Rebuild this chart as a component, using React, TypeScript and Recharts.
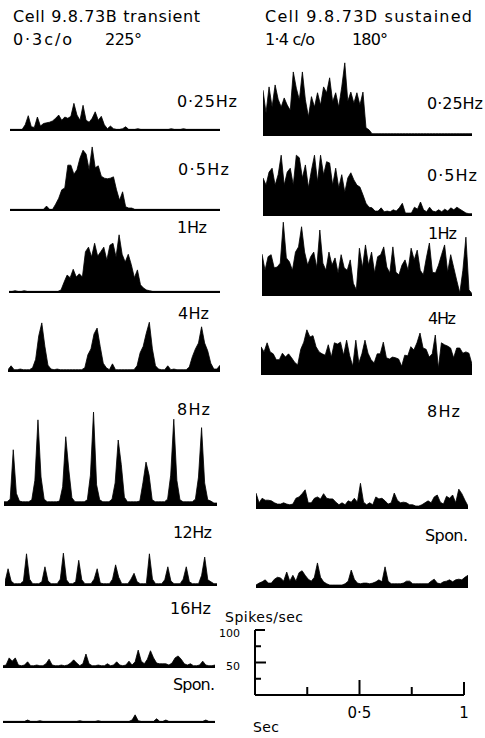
import React from 'react';
import { AreaChart, Area, XAxis, YAxis, ReferenceLine, ComposedChart, Line } from 'recharts';

// PSTH firing rates, spikes/sec, 70 bins over 1 s of stimulus cycle
// transient cell 9.8.73B
const transient025 = [1,1,1,1,1,8,22,5,4,20, 6,10,11,12,14,18,23,15,20,18, 21,41,23,15,38,15,12,18,28,15, 21,8,2,6,2,1,1,2,5,1, 1,1,2,1,1,1,1,1,1,1, 1,1,1,2,1,1,1,2,1,1, 1,1,1,1,1,1,1,1,1,1];
const transient05 = [1,1,1,1,1,1,1,1,1,1, 1,1,6,1,1,9,18,31,34,69, 69,55,62,80,92,86,62,97,65,68, 52,49,48,49,51,31,15,28,5,3, 3,1,1,1,1,1,1,1,1,1, 1,1,1,1,1,1,1,1,1,1, 1,1,1,1,1,1,1,1,1,1];
const transient1 = [1,1,2,1,1,2,1,1,1,1, 1,1,1,1,1,1,1,3,15,26, 22,35,23,28,23,62,69,54,75,55, 62,69,49,72,75,54,88,58,46,58, 42,22,34,11,6,3,2,1,1,1, 1,1,1,1,1,1,1,1,1,1, 1,1,1,1,1,1,1,1,1,1];
const transient4 = [2,8,2,2,3,2,2,2,5,18, 54,74,38,9,3,2,3,2,2,2, 2,2,2,2,2,5,25,34,57,66, 38,12,5,2,11,2,2,2,2,2, 2,2,8,28,38,58,75,34,8,3, 2,2,8,2,3,2,2,2,2,6, 22,34,43,68,43,31,12,3,3,9];
const transient8 = [5,5,9,85,18,6,5,5,5,8, 38,131,43,9,5,5,5,5,6,28, 105,54,11,5,5,5,5,8,46,143, 31,8,5,5,5,9,34,100,62,12, 5,5,5,5,6,34,66,46,8,5, 5,5,5,9,46,132,38,8,5,5, 5,5,9,43,119,34,8,6,3,3];
const transient12 = [5,25,6,2,2,2,6,48,9,2, 2,2,5,28,6,2,2,2,9,49, 8,2,2,5,38,8,2,2,2,9, 25,3,2,2,2,9,31,12,2,2, 2,9,18,5,2,2,2,48,9,2, 2,2,8,28,6,2,2,2,9,28, 5,2,2,2,15,43,8,5,2,2];
const transient16 = [2,3,14,9,14,3,2,3,8,2, 2,3,2,2,5,12,3,2,2,3, 2,3,6,11,6,2,5,20,5,2, 2,3,2,2,5,2,3,8,3,2, 3,9,3,8,26,9,5,12,25,14, 6,5,5,5,3,6,14,17,12,5, 3,5,2,2,3,9,3,2,2,3];
const transientSpon = [1,1,1,1,1,1,1,1,3,1, 1,1,2,1,1,1,1,1,1,1, 1,1,1,1,1,2,1,1,1,1, 1,2,1,1,1,1,1,1,1,1, 1,1,3,11,2,1,1,1,1,1, 5,1,1,3,1,1,1,1,1,1, 1,1,1,1,1,1,3,1,1,1];

// sustained cell 9.8.73D
const sustained025 = [69,34,74,43,77,55,43,57,46,38, 97,72,54,97,54,28,59,43,65,46, 74,65,88,51,65,43,74,111,52,66, 49,65,46,66,11,8,2,2,2,2, 2,2,2,2,2,2,2,2,2,2, 2,2,2,2,2,2,2,2,2,2, 2,2,2,2,2,2,2,2,2,2];
const sustained05 = [57,46,66,72,46,62,92,46,66,72, 46,92,88,57,77,42,69,92,51,92, 62,82,80,46,72,42,62,35,57,65, 54,46,43,31,18,12,11,6,6,11, 5,6,5,8,6,11,18,3,3,3, 12,9,20,8,5,12,6,5,8,5, 9,6,11,8,12,9,6,3,2,2];
const sustained1 = [63,38,59,62,42,43,49,112,57,51, 38,66,74,105,66,46,59,66,42,100, 49,38,66,46,57,34,62,42,38,54, 18,8,72,42,77,46,66,34,59,62, 74,43,34,74,35,31,46,54,38,72, 54,69,38,31,57,80,35,34,46,62, 77,35,62,42,22,3,38,89,8,2];
const sustained4 = [42,34,48,34,31,22,22,32,26,31, 25,18,14,38,49,68,57,59,42,34, 31,29,45,26,48,46,49,29,52,28, 12,52,17,31,52,32,22,17,31,31, 49,25,23,26,25,23,12,29,28,42, 37,48,63,40,38,26,31,60,9,48, 45,43,40,25,40,40,32,34,32,15];
const sustained8 = [23,8,15,12,12,11,8,6,6,8, 6,5,6,15,17,22,28,8,8,15, 17,14,22,15,14,14,9,5,8,5, 11,9,15,9,38,9,5,8,5,17, 14,15,11,6,8,23,12,8,9,8, 5,5,3,3,5,8,11,8,17,20, 9,6,18,15,20,8,29,22,12,3];
const sustainedSpon = [3,6,8,11,6,6,12,15,14,9, 23,9,18,9,22,25,18,12,9,15, 37,15,8,5,3,3,3,3,3,5, 9,26,12,6,5,6,6,5,6,8, 11,8,31,9,5,5,5,5,6,9, 9,5,5,5,5,5,5,9,12,6, 5,8,9,11,8,11,12,11,15,18];

// calibration bar
const scaleTimeTicks = [0, 0.25, 0.5, 0.75, 1];
const scaleRateTicks = [0, 25, 50, 75, 100];

const FONT = '"DejaVu Sans", sans-serif';
const Y_MAX = 160; // spikes/sec
const PLOT_H = 104; // 100 spikes/sec = 65px
const SCALE_W = 209; // px for 1 s in the calibration bar
const rateTickLen = [0, 6, 11, 6, 10]; // px, per rate tick

const panels = [
  { rates: transient025, x: 10, baseline: 130, width: 210 },
  { rates: transient05, x: 10, baseline: 210, width: 210 },
  { rates: transient1, x: 9, baseline: 292, width: 211 },
  { rates: transient4, x: 8, baseline: 371, width: 212 },
  { rates: transient8, x: 4, baseline: 505, width: 213 },
  { rates: transient12, x: 5, baseline: 585, width: 212 },
  { rates: transient16, x: 3, baseline: 667, width: 212 },
  { rates: transientSpon, x: 3, baseline: 722, width: 212 },
  { rates: sustained025, x: 263, baseline: 135, width: 209 },
  { rates: sustained05, x: 263, baseline: 215, width: 209 },
  { rates: sustained1, x: 262, baseline: 295, width: 210 },
  { rates: sustained4, x: 261, baseline: 374, width: 211 },
  { rates: sustained8, x: 256, baseline: 508, width: 212 },
  { rates: sustainedSpon, x: 256, baseline: 587, width: 212 },
];

const texts = [
  { text: 'Cell 9.8.73B transient', x: 13, y: 22, w: 187, size: 16 },
  { text: '0·3c/o', x: 13, y: 45, w: 59, size: 16 },
  { text: '225°', x: 105, y: 45, w: 37, size: 16 },
  { text: 'Cell 9.8.73D sustained', x: 265, y: 22, w: 207, size: 16 },
  { text: '1·4 c/o', x: 265, y: 45, w: 50, size: 16 },
  { text: '180°', x: 352, y: 45, w: 36, size: 16 },
  { text: '0·25Hz', x: 177, y: 107, w: 60, size: 16 },
  { text: '0·5Hz', x: 178, y: 175, w: 51, size: 16 },
  { text: '1Hz', x: 177, y: 233, w: 30, size: 16 },
  { text: '4Hz', x: 178, y: 319, w: 31, size: 16 },
  { text: '8Hz', x: 177, y: 415, w: 33, size: 16 },
  { text: '12Hz', x: 173, y: 538, w: 39, size: 16 },
  { text: '16Hz', x: 170, y: 614, w: 41, size: 16 },
  { text: 'Spon.', x: 173, y: 690, w: 42, size: 16 },
  { text: '0·25Hz', x: 427, y: 109, w: 56, size: 16 },
  { text: '0·5Hz', x: 427, y: 181, w: 50, size: 16 },
  { text: '1Hz', x: 428, y: 239, w: 29, size: 16 },
  { text: '4Hz', x: 428, y: 324, w: 28, size: 16 },
  { text: '8Hz', x: 427, y: 417, w: 33, size: 16 },
  { text: 'Spon.', x: 425, y: 541, w: 43, size: 16 },
  { text: 'Spikes/sec', x: 225, y: 622, w: 78, size: 14 },
  { text: 'Sec', x: 253, y: 732, w: 26, size: 14 },
];

const Histogram = ({ rates, x, baseline, width }: { rates: number[]; x: number; baseline: number; width: number }) => {
  const data = rates.map((rate, bin) => ({ bin, rate }));
  return (
    <div style={{ position: 'absolute', left: x, top: baseline - PLOT_H - 1 }}>
      <AreaChart width={width} height={PLOT_H + 3} data={data} margin={{ top: 1, right: 0, bottom: 2, left: 0 }}>
        <XAxis dataKey="bin" hide />
        <YAxis hide domain={[0, Y_MAX]} />
        <Area
          type="linear"
          dataKey="rate"
          stroke="#000"
          strokeWidth={0.8}
          fill="#000"
          fillOpacity={1}
          dot={false}
          activeDot={false}
          isAnimationActive={false}
        />
        <ReferenceLine y={0} stroke="#000" strokeWidth={2} />
      </AreaChart>
    </div>
  );
};

const TimeTick = (props: any) => {
  const { x, y, payload } = props;
  const v = payload.value;
  const len = v === 0 ? 0 : v === 0.5 ? 15 : v === 1 ? 13 : 8;
  const label = v === 0.5 ? '0·5' : v === 1 ? '1' : '';
  return (
    <g>
      <line x1={x} y1={y} x2={x} y2={y - len} stroke="#000" strokeWidth={2} />
      {label && (
        <text x={x} y={y + 23} textAnchor="middle" fontSize={15} fontFamily={FONT} fill="#000">
          {label}
        </text>
      )}
    </g>
  );
};

const RateTick = (props: any) => {
  const { x, y, payload } = props;
  const v = payload.value;
  const label = v === 100 ? '100' : v === 50 ? '50' : '';
  if (!label) return <g />;
  return (
    <text x={x - 15} y={y + 7} textAnchor="end" fontSize={11} fontFamily={FONT} fill="#000">
      {label}
    </text>
  );
};

const scaleData = scaleTimeTicks.map((t, i) => ({ t, r: scaleRateTicks[i] }));

const ScaleBar = () => (
  <div style={{ position: 'absolute', left: 202, top: 600 }}>
    <ComposedChart width={272} height={130} data={scaleData} margin={{ top: 30, right: 10, bottom: 5, left: 13 }}>
      <XAxis
        type="number"
        dataKey="t"
        domain={[0, 1]}
        ticks={scaleTimeTicks}
        interval={0}
        height={30}
        tickSize={0}
        tickMargin={0}
        tick={<TimeTick />}
        axisLine={{ stroke: '#000', strokeWidth: 2 }}
      />
      <YAxis
        type="number"
        dataKey="r"
        domain={[0, 100]}
        ticks={scaleRateTicks}
        interval={0}
        width={40}
        tickSize={0}
        tickMargin={0}
        tick={<RateTick />}
        axisLine={{ stroke: '#000', strokeWidth: 2 }}
      />
      {scaleRateTicks.map((r, i) =>
        rateTickLen[i] > 0 ? (
          <ReferenceLine
            key={r}
            segment={[
              { x: 0, y: r },
              { x: rateTickLen[i] / SCALE_W, y: r },
            ]}
            stroke="#000"
            strokeWidth={2}
          />
        ) : null
      )}
      <Line dataKey="r" stroke="none" dot={false} activeDot={false} isAnimationActive={false} />
    </ComposedChart>
  </div>
);

export default function App() {
  return (
    <div style={{ position: 'absolute', left: 0, top: 0, width: 485, height: 738, background: '#fff', overflow: 'hidden' }}>
      {panels.map((p, i) => (
        <Histogram key={i} {...p} />
      ))}
      <ScaleBar />
      <svg width={485} height={738} style={{ position: 'absolute', left: 0, top: 0, pointerEvents: 'none' }}>
        {texts.map((t, i) => (
          <text
            key={i}
            x={t.x}
            y={t.y}
            fontSize={t.size}
            fontFamily={FONT}
            fill="#000"
            textLength={t.w}
            lengthAdjust="spacing"
          >
            {t.text}
          </text>
        ))}
      </svg>
    </div>
  );
}
